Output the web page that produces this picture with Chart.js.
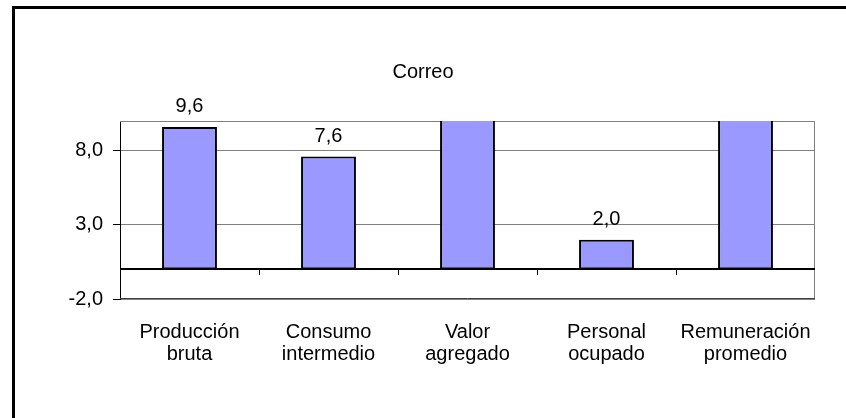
<!DOCTYPE html>
<html lang="es">
<head>
<meta charset="UTF-8">
<title>Correo</title>
<script src="https://cdn.jsdelivr.net/npm/chart.js"></script>
<style>
    html, body { margin: 0; padding: 0; background: #fff; overflow: hidden; }
    #frame { position: absolute; left: 12px; top: 6px; width: 900px; height: 500px;
             border-left: 3px solid #000; border-top: 3px solid #000; }
    #chart { position: absolute; left: 0; top: 0; }
</style>
</head>
<body>
<div id="frame"></div>
<canvas id="chart" width="846" height="418"></canvas>

<script>
    // datos
    const categorias = [
        ['Producción', 'bruta'],
        ['Consumo', 'intermedio'],
        ['Valor', 'agregado'],
        ['Personal', 'ocupado'],
        ['Remuneración', 'promedio']
    ];
    const valores = [9.6, 7.6, 14.1, 2.0, 11.3]; // las barras 3 y 5 salen del área (sin etiqueta)
    const ticksY = [-2, 3, 8];
    const yMin = -2, yMax = 10;

    const fuente = 'Liberation Sans, Arial, sans-serif';
    const coma = v => v.toFixed(1).replace('.', ',');

    // línea del cero con marcas entre categorías, y borde del área de trazado
    const ejeCero = {
        id: 'ejeCero',
        beforeDatasetsDraw(chart) {
            const { ctx, chartArea: a, scales: { x, y } } = chart;
            ctx.save();
            ctx.strokeStyle = '#808080';
            ctx.lineWidth = 1;
            ctx.beginPath();
            ctx.moveTo(a.left, a.top + 0.5);
            ctx.lineTo(a.right - 0.5, a.top + 0.5);
            ctx.lineTo(a.right - 0.5, a.bottom);
            ctx.stroke();
            ctx.strokeStyle = '#404040';
            ctx.beginPath();
            ctx.moveTo(a.left, a.bottom - 0.5);
            ctx.lineTo(a.right, a.bottom - 0.5);
            ctx.stroke();

            const y0 = Math.round(y.getPixelForValue(0));
            ctx.strokeStyle = '#000';
            ctx.lineWidth = 2;
            ctx.beginPath();
            ctx.moveTo(a.left, y0);
            ctx.lineTo(a.right, y0);
            ctx.stroke();
            ctx.lineWidth = 1;
            for (let i = 0; i < categorias.length - 1; i++) {
                const xb = Math.round((x.getPixelForValue(i) + x.getPixelForValue(i + 1)) / 2) + 0.5;
                ctx.beginPath();
                ctx.moveTo(xb, y0);
                ctx.lineTo(xb, y0 + 6);
                ctx.stroke();
            }
            ctx.restore();
        }
    };

    // etiquetas de valor encima de las barras (solo las que caben)
    const etiquetas = {
        id: 'etiquetas',
        afterDatasetsDraw(chart) {
            const { ctx } = chart;
            const meta = chart.getDatasetMeta(0);
            ctx.save();
            ctx.font = '20px ' + fuente;
            ctx.fillStyle = '#000';
            ctx.textAlign = 'center';
            ctx.textBaseline = 'alphabetic';
            meta.data.forEach((bar, i) => {
                if (valores[i] > yMax) return;
                ctx.fillText(coma(valores[i]), bar.x, bar.y - 15);
            });
            ctx.restore();
        }
    };

    const ctx = document.getElementById('chart').getContext('2d');
    const grafico = new Chart(ctx, {
        type: 'bar',
        data: {
            labels: categorias,
            datasets: [{
                data: valores,
                backgroundColor: '#9999FF',
                borderColor: '#000',
                borderWidth: 2,
                borderSkipped: false,
                categoryPercentage: 1,
                barPercentage: 0.395,
                clip: 0
            }]
        },
        options: {
            responsive: false,
            animation: false,
            devicePixelRatio: 1,
            layout: { padding: { left: 0, right: 0, top: 20, bottom: 0 } },
            plugins: {
                legend: { display: false },
                tooltip: { enabled: false },
                title: {
                    display: true,
                    text: 'Correo',
                    color: '#000',
                    font: { family: fuente, size: 20, weight: 'normal', lineHeight: 1.2 },
                    padding: { top: 40, bottom: 37 }
                }
            },
            scales: {
                x: {
                    grid: { display: false },
                    border: { display: false },
                    ticks: {
                        color: '#000',
                        padding: 14,
                        maxRotation: 0,
                        autoSkip: false,
                        font: { family: fuente, size: 20, lineHeight: 1.1 }
                    },
                    afterFit(s) { s.height = 119; }
                },
                y: {
                    min: yMin,
                    max: yMax,
                    afterBuildTicks(s) { s.ticks = ticksY.map(v => ({ value: v })); },
                    grid: { color: '#808080', tickColor: '#000', tickLength: 7, lineWidth: 1 },
                    border: { display: true, color: '#000', width: 1 },
                    ticks: {
                        color: '#000',
                        padding: 10,
                        font: { family: fuente, size: 20 },
                        callback: v => coma(v)
                    },
                    afterFit(s) { s.width = 120; }
                },
                // eje vacío a la derecha, solo reserva el margen
                margen: {
                    position: 'right',
                    grid: { display: false },
                    border: { display: false },
                    ticks: { display: false },
                    afterFit(s) { s.width = 31; }
                }
            }
        },
        plugins: [ejeCero, etiquetas]
    });
</script>
</body>
</html>
